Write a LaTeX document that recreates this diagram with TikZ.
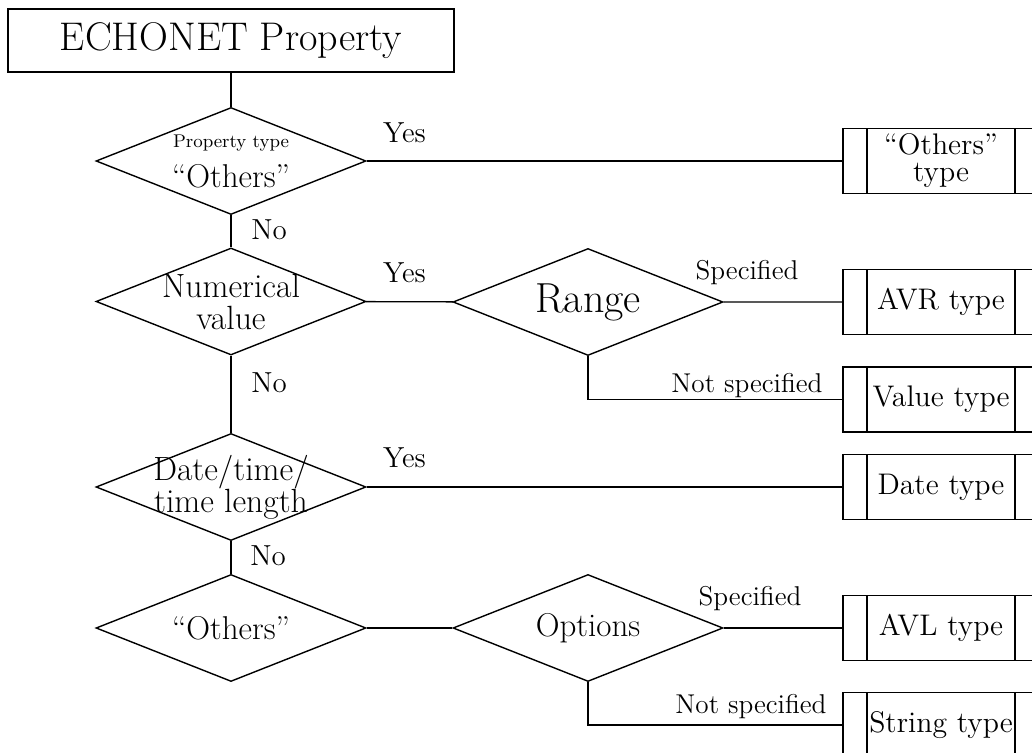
\documentclass[tikz,border=0pt]{standalone}
\usetikzlibrary{shapes.geometric}

\begin{document}
\begin{tikzpicture}[x=0.5pt, y=-0.5pt, line width=0.7pt,
        decision/.style={diamond, draw, minimum width=135pt, minimum height=53.5pt, inner sep=0pt},
        dtext/.style={font=\fontsize{16.8}{16}\selectfont, align=center, inner sep=0pt},
        typebox/.style={draw, minimum width=98pt, minimum height=32.5pt, inner sep=0pt,
            align=center, font=\fontsize{14.9}{13.5}\selectfont,
            path picture={
                \draw ([xshift=12pt]path picture bounding box.north west) -- ([xshift=12pt]path picture bounding box.south west);
                \draw ([xshift=-12pt]path picture bounding box.north east) -- ([xshift=-12pt]path picture bounding box.south east);
            }},
        answer/.style={font=\fontsize{14.5}{16}\selectfont, inner sep=0pt, anchor=base},
        choice/.style={font=\fontsize{13.6}{16}\selectfont, inner sep=0pt, anchor=base}]
        \useasboundingbox (0,0) rectangle (1032,753);
        \clip (0,0) rectangle (1032,753);

        \node (prop) [draw, minimum width=223pt, minimum height=31.5pt, font=\fontsize{20}{22}\selectfont] at (231,40.5) {ECHONET Property};

        \node (qothers) [decision, label={[dtext, font=\fontsize{16.5}{20}\selectfont]center:{\fontsize{9.2}{11}\selectfont Property type}\\“Others”}] at (231,161) {};
        \node (qnum) [decision, label={[dtext]center:Numerical\\value}] at (231,301.5) {};
        \node (qdate) [decision, label={[dtext]center:Date/time/\\time length}] at (231,487) {};
        \node (qlist) [decision, label={[dtext, font=\fontsize{16.5}{16}\selectfont]center:“Others”}] at (231,628) {};

        \node (range) [decision, label={[dtext, font=\fontsize{21}{22}\selectfont]center:Range}] at (588,302) {};
        \node (options) [decision, label={[dtext, font=\fontsize{16.5}{16}\selectfont]center:Options}] at (588,628) {};

        \node (tothers) [typebox] at (941,161) {“Others”\\type};
        \node (tavr) [typebox] at (941,302) {AVR type};
        \node (tvalue) [typebox] at (941,399.5) {Value type};
        \node (tdate) [typebox] at (941,487) {Date type};
        \node (tavl) [typebox] at (941,628) {AVL type};
        \node (tstring) [typebox] at (941,725) {String type};

        \draw (prop) -- (qothers) -- (qnum) -- (qdate) -- (qlist);
        \draw (qothers) -- (tothers);
        \draw (qnum) -- (range) -- (tavr);
        \draw (range.south) |- (tvalue.west);
        \draw (qdate) -- (tdate);
        \draw (qlist) -- (options) -- (tavl);
        \draw (options.south) |- (tstring.west);

        \node (yes1) [answer] at (404.5,143) {Yes};
        \node (yes2) [answer] at (404.5,283) {Yes};
        \node (yes3) [answer] at (404.5,467) {Yes};
        \node (no1) [answer] at (269,240) {No};
        \node (no2) [answer] at (269,392) {No};
        \node (no3) [answer] at (268,565) {No};
        \node (spec1) [choice] at (747,280) {Specified};
        \node (nspec1) [choice] at (747,392) {Not specified};
        \node (spec2) [choice] at (750,605) {Specified};
        \node (nspec2) [choice] at (751,713) {Not specified};
    \end{tikzpicture}
\end{document}
